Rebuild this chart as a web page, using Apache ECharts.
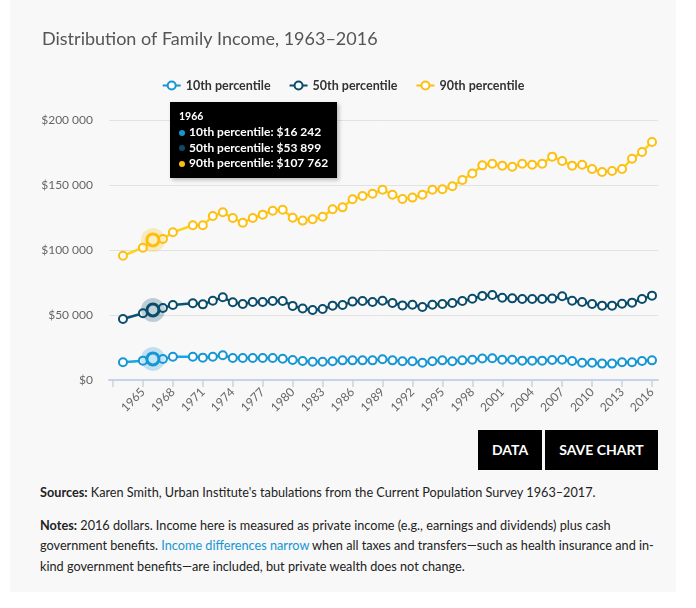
<!DOCTYPE html>
<html lang="en">
<head>
  <meta charset="UTF-8">
  <title>Distribution of Family Income, 1963–2016</title>
  <script src="https://cdn.jsdelivr.net/npm/echarts@6/dist/echarts.min.js"></script>
  <style>
    body {
      margin: 0;
      background: #fff;
      font-family: Lato, sans-serif;
    }

    .card {
      position: absolute;
      left: 10px;
      top: 0;
      width: 666px;
      height: 592px;
      background: #f8f8f8;
    }

    #chart {
      position: absolute;
      left: 0;
      top: 0;
      width: 666px;
      height: 425px;
    }

    .buttons {
      position: absolute;
      left: 468px;
      top: 430px;
      display: flex;
    }

    .btn {
      height: 40px;
      line-height: 40px;
      background: #000;
      color: #fff;
      font-weight: bold;
      font-size: 14px;
      padding: 0 14px;
      margin-right: 3px;
    }

    .notes {
      position: absolute;
      left: 30px;
      top: 482px;
      width: 640px;
      font-size: 12.7px;
      color: #222;
      line-height: 20.5px;
    }

    .notes p {
      margin: 0 0 12px 0;
    }

    .notes a {
      color: #1696d2;
      text-decoration: none;
    }
  </style>
</head>
<body>
<div class="card">
  <div id="chart"></div>
  <div class="buttons">
    <div class="btn">DATA</div>
    <div class="btn">SAVE CHART</div>
  </div>
  <div class="notes">
    <p><b>Sources:</b> Karen Smith, Urban Institute's tabulations from the Current Population Survey 1963–2017.</p>
    <p><b>Notes:</b> 2016 dollars. Income here is measured as private income (e.g., earnings and dividends) plus cash<br>government benefits. <a href="#">Income differences narrow</a> when all taxes and transfers—such as health insurance and in-<br>kind government benefits—are included, but private wealth does not change.</p>
  </div>
</div>

<script>
  const years = [1963, 1965, 1966, 1967, 1968,
    1970, 1971, 1972, 1973, 1974, 1975, 1976, 1977, 1978, 1979,
    1980, 1981, 1982, 1983, 1984, 1985, 1986, 1987, 1988, 1989,
    1990, 1991, 1992, 1993, 1994, 1995, 1996, 1997, 1998, 1999,
    2000, 2001, 2002, 2003, 2004, 2005, 2006, 2007, 2008, 2009,
    2010, 2011, 2012, 2013, 2014, 2015, 2016];

  const p10 = [13600, 14900, 16242, 16200, 17900,
    17900, 17200, 17900, 19000, 16900, 16900, 16900, 16900, 16900, 16400,
    15400, 14600, 14100, 14100, 14400, 15100, 15100, 15100, 15100, 15900,
    15100, 14400, 14400, 13300, 14400, 15100, 14400, 15100, 15600, 16500,
    16700, 15600, 15600, 14900, 14900, 14900, 15400, 15600, 14600, 13300,
    13300, 12600, 12600, 13600, 13600, 14600, 15100];

  const p50 = [46900, 51300, 53899, 55400, 57700,
    59000, 58200, 61000, 63600, 59800, 58500, 60000, 60000, 60800, 60800,
    57000, 55000, 53800, 54600, 57200, 57700, 60300, 60800, 60000, 61000,
    59200, 57400, 57900, 56200, 57900, 58500, 59200, 60800, 62500, 64700,
    65400, 63300, 62800, 62300, 62300, 62300, 62600, 64400, 61000, 60000,
    58500, 57200, 57200, 58700, 59500, 62300, 64900];

  const p90 = [95600, 101800, 107762, 108500, 113600,
    119000, 119000, 126100, 129000, 124600, 121000, 124600, 127200, 130200, 131000,
    124800, 122600, 123600, 125600, 131300, 132800, 139000, 141500, 143300, 146400,
    142500, 139200, 140300, 142500, 146400, 146700, 149000, 153800, 158800, 165100,
    166400, 164900, 164100, 166400, 165600, 166400, 171800, 168500, 164900, 165600,
    162300, 160000, 160800, 162300, 170200, 175400, 183100];

  const seriesNames = ['10th percentile', '50th percentile', '90th percentile'];
  const seriesColors = ['#1696d2', '#0a4c6a', '#fdbf11'];
  const tickYears = [1962, 1965, 1968, 1971, 1974, 1977, 1980, 1983, 1986, 1989,
    1992, 1995, 1998, 2001, 2004, 2007, 2010, 2013, 2016];
  const labelYears = tickYears.slice(1);
  const tipIndex = 2;

  function money(v) {
    return '$' + String(v).replace(/\B(?=(\d{3})+(?!\d))/g, ' ');
  }

  function makeSeries(name, color, values) {
    return {
      name: name,
      type: 'line',
      data: years.map((y, i) => [y, values[i]]),
      symbol: 'circle',
      symbolSize: 8,
      lineStyle: {color: color, width: 2.5},
      itemStyle: {color: '#fff', borderColor: color, borderWidth: 2},
      emphasis: {scale: 1.5, itemStyle: {color: '#fff', borderColor: color, borderWidth: 3}},
      markPoint: {
        silent: true,
        symbol: 'circle',
        symbolSize: 24,
        label: {show: false},
        itemStyle: {color: color, opacity: 0.25},
        data: [{coord: [years[tipIndex], values[tipIndex]]}]
      }
    };
  }

  const chart = echarts.init(document.getElementById('chart'));
  chart.setOption({
    animation: false,
    textStyle: {fontFamily: 'Lato'},
    title: {
      text: 'Distribution of Family Income, 1963–2016',
      left: 27,
      top: 25,
      textStyle: {fontFamily: 'Lato', fontSize: 18, fontWeight: 'normal', color: '#555'}
    },
    legend: {
      top: 74,
      left: 'center',
      itemGap: 18,
      itemWidth: 18,
      itemHeight: 10,
      textStyle: {fontFamily: 'Lato', fontSize: 12.5, fontWeight: 'bold', color: '#333'},
      data: seriesNames.map((n, i) => ({name: n, itemStyle: {color: '#fff', borderColor: seriesColors[i], borderWidth: 2}}))
    },
    tooltip: {
      trigger: 'axis',
      triggerOn: 'none',
      alwaysShowContent: true,
      axisPointer: {type: 'none'},
      backgroundColor: '#000',
      borderWidth: 0,
      padding: [7, 9],
      extraCssText: 'border-radius:0;box-shadow:2px 2px 4px rgba(0,0,0,0.25);',
      position: [160, 102],
      formatter: function (params) {
        let s = '<div style="font-family:Lato;font-size:10.5px;font-weight:bold;color:#fff;line-height:15px">' + params[0].value[0] + '</div>';
        params.forEach(function (p) {
          s += '<div style="font-family:Lato;font-size:12px;font-weight:bold;color:#fff;line-height:15.5px">' +
            '<span style="display:inline-block;width:6px;height:6px;border-radius:50%;margin-right:4px;vertical-align:middle;background:' +
            seriesColors[p.seriesIndex] + '"></span>' + p.seriesName + ': ' + money(p.value[1]) + '</div>';
        });
        return s;
      }
    },
    grid: {left: 99, right: 18, top: 120, height: 260},
    xAxis: {
      type: 'value',
      min: 1961.6,
      max: 2016.6,
      axisLine: {lineStyle: {color: '#c6d2e8', width: 2}},
      axisTick: {show: true, customValues: tickYears, length: 7, lineStyle: {color: '#c6d2e8', width: 1.5}},
      axisLabel: {
        customValues: labelYears, rotate: 45, color: '#666', fontSize: 12, fontFamily: 'Lato', margin: 10,
        formatter: function (v) {
          return String(Math.round(v));
        }
      },
      splitLine: {show: false}
    },
    yAxis: {
      type: 'value',
      min: 0,
      max: 200000,
      interval: 50000,
      axisLine: {show: false},
      axisTick: {show: false},
      axisLabel: {color: '#666', fontSize: 12, fontFamily: 'Lato', margin: 16, formatter: money},
      splitLine: {lineStyle: {color: '#e2e2e2'}}
    },
    series: [
      makeSeries(seriesNames[0], seriesColors[0], p10),
      makeSeries(seriesNames[1], seriesColors[1], p50),
      makeSeries(seriesNames[2], seriesColors[2], p90)
    ]
  });

  chart.dispatchAction({type: 'showTip', seriesIndex: 0, dataIndex: tipIndex});
  chart.dispatchAction({type: 'highlight', seriesIndex: [0, 1, 2], dataIndex: tipIndex});
</script>
</body>
</html>
